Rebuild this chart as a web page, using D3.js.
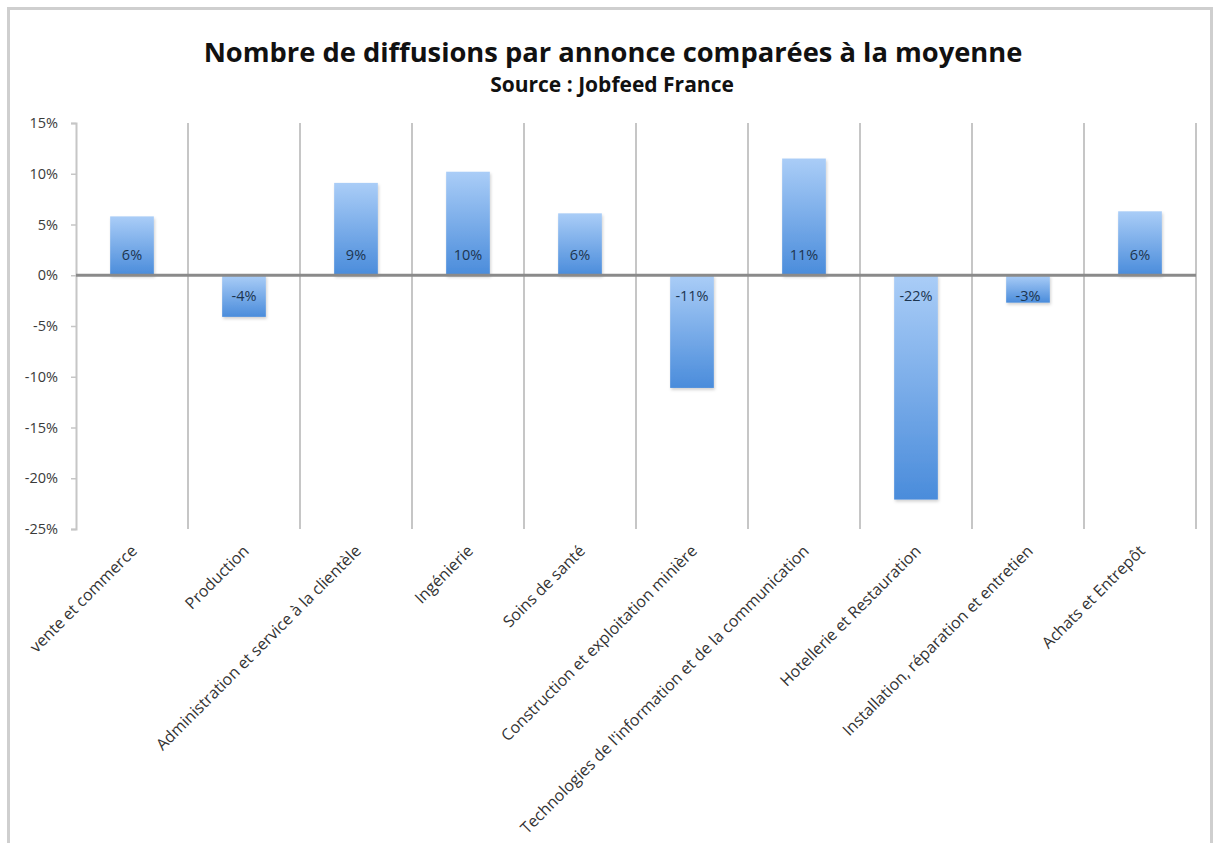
<!DOCTYPE html>
<html>
<head>
<meta charset="utf-8">
<script src="https://cdn.jsdelivr.net/npm/d3@7"></script>
<style>
  body { margin: 0; background: #fff; }
  text { font-family: "Open Sans", "DejaVu Sans", sans-serif; }
</style>
</head>
<body>
<script>
// data
var categories = ["vente et commerce", "Production", "Administration et service à la clientèle",
  "Ingénierie", "Soins de santé", "Construction et exploitation minière",
  "Technologies de l'information et de la communication", "Hotellerie et Restauration",
  "Installation, réparation et entretien", "Achats et Entrepôt"];
var values = [5.8, -4.1, 9.1, 10.2, 6.1, -11.1, 11.5, -22.1, -2.7, 6.3];
var valueLabels = ["6%", "-4%", "9%", "10%", "6%", "-11%", "11%", "-22%", "-3%", "6%"];
var yTicks = [15, 10, 5, 0, -5, -10, -15, -20, -25];

function drawChart() {
  var width = 1213, height = 843;
  var plotLeft = 76, plotRight = 1196, plotTop = 123, plotBottom = 529;

  var svg = d3.select("body").append("svg")
    .attr("width", width)
    .attr("height", height);

  var defs = svg.append("defs");
  var grad = defs.append("linearGradient")
    .attr("id", "barGrad")
    .attr("x1", 0).attr("y1", 0).attr("x2", 0).attr("y2", 1);
  grad.append("stop").attr("offset", "0%").attr("stop-color", "#aacdf7");
  grad.append("stop").attr("offset", "100%").attr("stop-color", "#4a8cdb");

  var shadow = defs.append("filter").attr("id", "shadow")
    .attr("x", "-20%").attr("y", "-20%").attr("width", "140%").attr("height", "140%");
  shadow.append("feDropShadow")
    .attr("dx", 1).attr("dy", 2).attr("stdDeviation", 1.5)
    .attr("flood-color", "#000").attr("flood-opacity", 0.18);

  // outer frame
  svg.append("rect")
    .attr("x", 8.5).attr("y", 8.5)
    .attr("width", 1203).attr("height", 850)
    .attr("fill", "none")
    .attr("stroke", "#cfcfcf")
    .attr("stroke-width", 3);

  // titles
  svg.append("text")
    .attr("x", 613).attr("y", 62)
    .attr("text-anchor", "middle")
    .attr("font-size", 27.3)
    .attr("font-weight", "bold")
    .attr("fill", "#111")
    .text("Nombre de diffusions par annonce comparées à la moyenne");
  svg.append("text")
    .attr("x", 612).attr("y", 92)
    .attr("text-anchor", "middle")
    .attr("font-size", 21)
    .attr("font-weight", "bold")
    .attr("fill", "#111")
    .text("Source : Jobfeed France");

  var x = d3.scaleBand()
    .domain(categories)
    .range([plotLeft, plotRight]);

  var y = d3.scaleLinear()
    .domain([-25, 15])
    .range([plotBottom, plotTop]);

  // vertical gridlines at category edges
  var edges = categories.map(function (c) { return x(c) + x.bandwidth(); });
  svg.append("g").selectAll("line")
    .data(edges)
    .enter().append("line")
    .attr("x1", function (d) { return d; })
    .attr("x2", function (d) { return d; })
    .attr("y1", y(15))
    .attr("y2", y(-25))
    .attr("stroke", "#c6c6c6")
    .attr("stroke-width", 2);

  // y axis
  var yAxis = svg.append("g")
    .attr("transform", "translate(" + plotLeft + ",0)")
    .call(d3.axisLeft(y)
      .tickValues(yTicks)
      .tickSize(5)
      .tickPadding(13)
      .tickFormat(function (d) { return d + "%"; }));
  yAxis.select(".domain").attr("stroke", "#c6c6c6").attr("stroke-width", 2);
  yAxis.selectAll(".tick line").attr("stroke", "#c6c6c6").attr("stroke-width", 1.5);
  yAxis.selectAll(".tick text")
    .attr("font-size", 14.5)
    .attr("fill", "#3a3a3a")
    .style("font-family", "'Open Sans', sans-serif");

  // bars
  var barW = x.bandwidth() * 0.39;
  svg.append("g").selectAll("rect")
    .data(values)
    .enter().append("rect")
    .attr("x", function (d, i) { return x(categories[i]) + (x.bandwidth() - barW) / 2; })
    .attr("y", function (d) { return y(Math.max(0, d)); })
    .attr("width", barW)
    .attr("height", function (d) { return Math.abs(y(d) - y(0)); })
    .attr("fill", "url(#barGrad)")
    .attr("filter", "url(#shadow)");

  // zero line
  svg.append("line")
    .attr("x1", plotLeft).attr("x2", plotRight)
    .attr("y1", y(0)).attr("y2", y(0))
    .attr("stroke", "#8a8a8a")
    .attr("stroke-width", 3);

  // value labels at the base of each bar
  svg.append("g").selectAll("text")
    .data(values)
    .enter().append("text")
    .attr("x", function (d, i) { return x(categories[i]) + x.bandwidth() / 2; })
    .attr("y", function (d) { return d >= 0 ? y(0) - 15 : y(0) + 26; })
    .attr("text-anchor", "middle")
    .attr("font-size", 14.5)
    .attr("fill", "#1c3550")
    .text(function (d, i) { return valueLabels[i]; });

  // rotated category labels
  svg.append("g").selectAll("text")
    .data(categories)
    .enter().append("text")
    .attr("transform", function (d) {
      return "translate(" + (x(d) + x.bandwidth() / 2 + 6) + "," + 552 + ") rotate(-45)";
    })
    .attr("text-anchor", "end")
    .attr("font-size", 16)
    .attr("fill", "#333")
    .text(function (d) { return d; });
}

drawChart();
</script>
</body>
</html>
